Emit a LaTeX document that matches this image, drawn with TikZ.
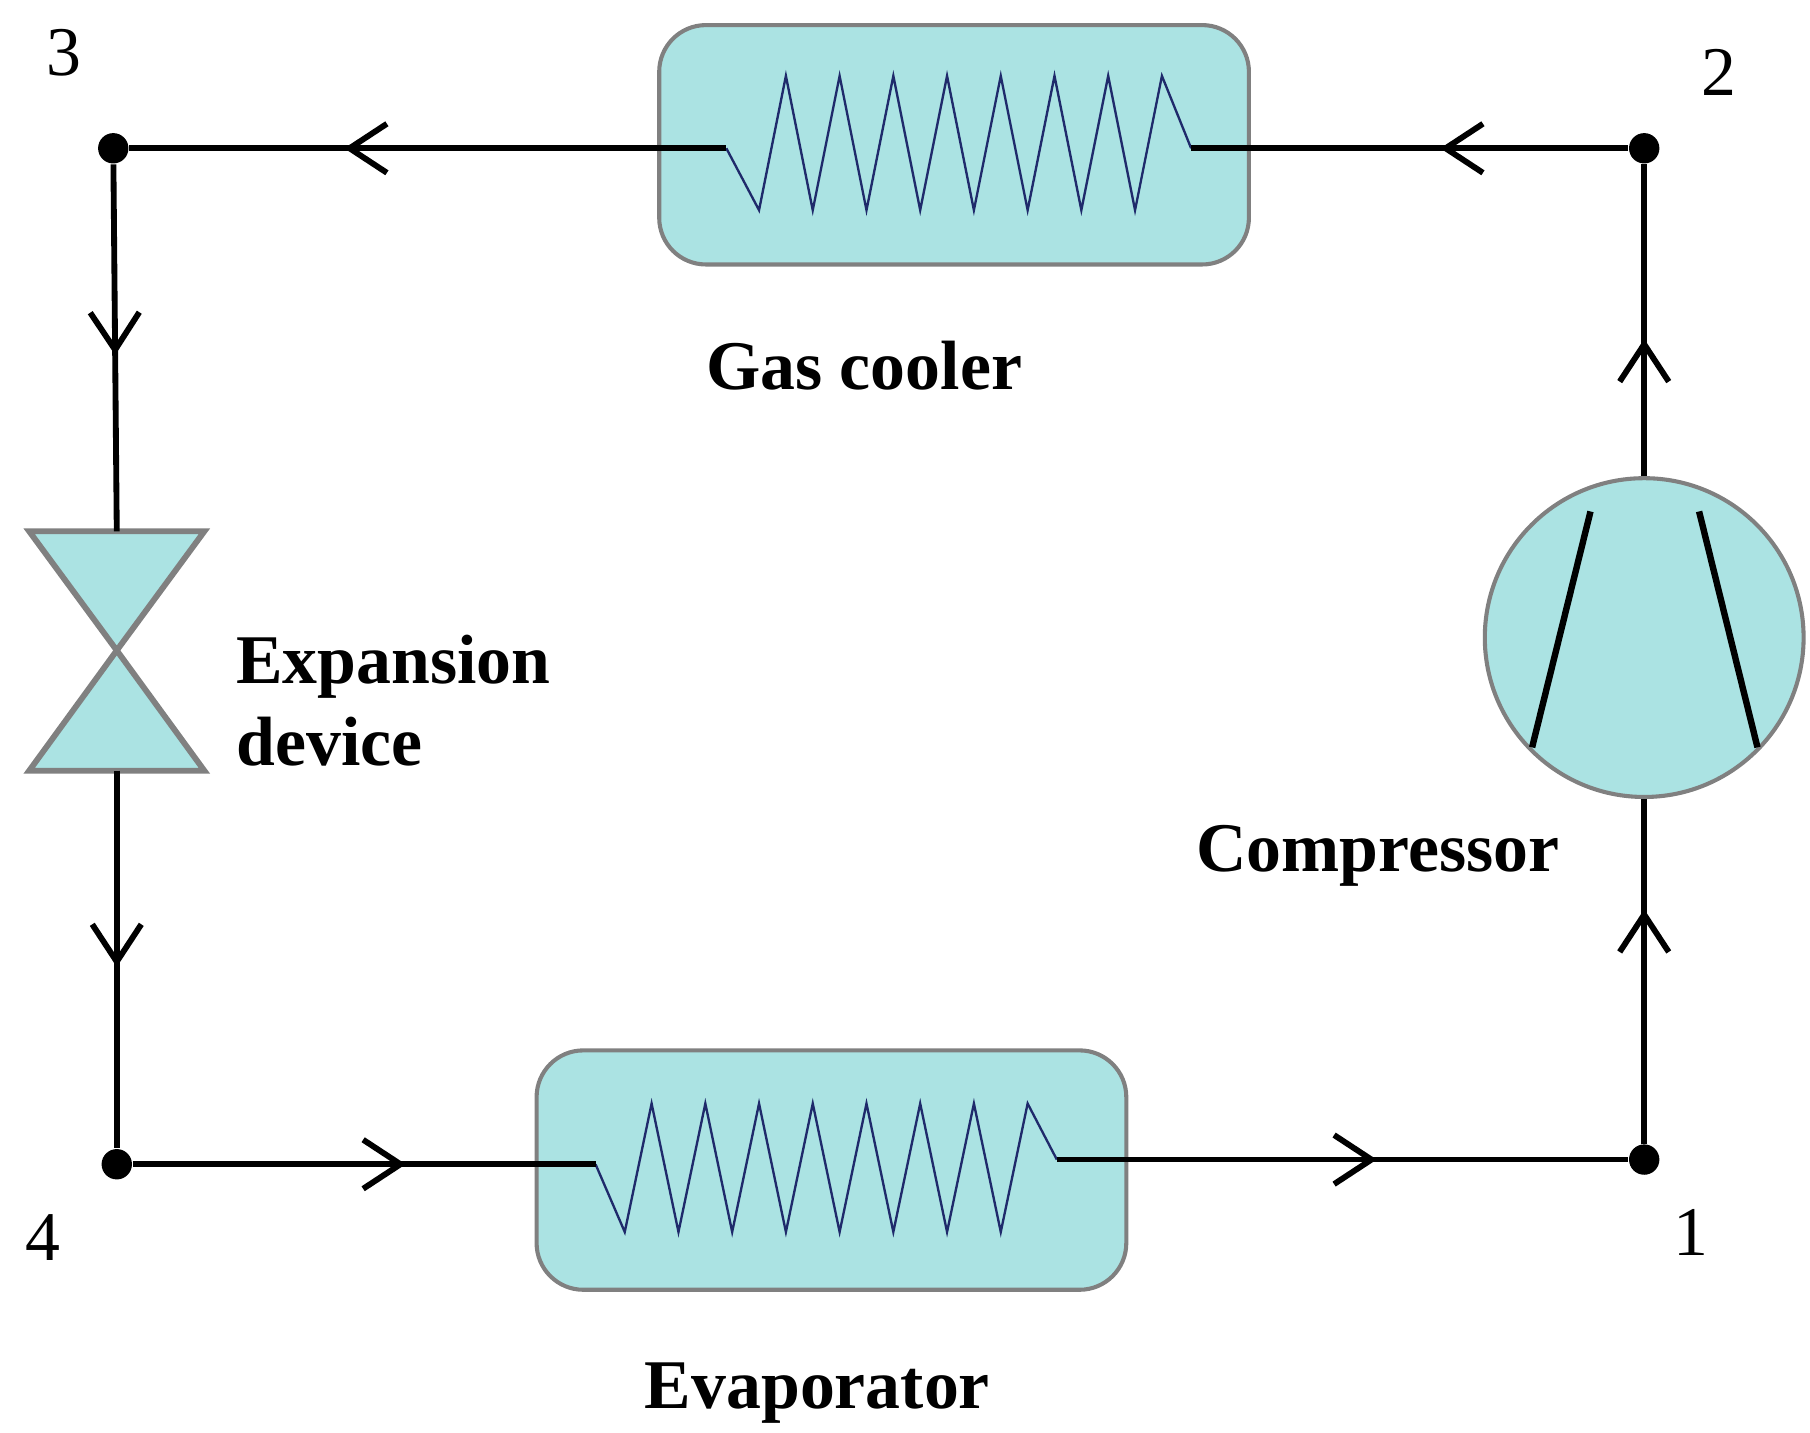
\documentclass[tikz,border=0pt]{standalone}
\usepackage{fontspec}
\setmainfont{Liberation Serif}
\usetikzlibrary{arrows.meta, positioning, calc, decorations.markings}

\definecolor{unitfill}{HTML}{ABE3E3}
\definecolor{unitline}{HTML}{808080}
\definecolor{coilblue}{HTML}{1F2A6B}

\begin{document}
\begin{tikzpicture}[x=0.1mm, y=-0.1mm,
    unit/.style={rectangle, rounded corners=4mm, draw=unitline, line width=0.35mm, fill=unitfill, minimum width=50.5mm, minimum height=20.5mm},
    dot/.style={circle, fill=black, inner sep=0pt, minimum size=2.6mm},
    pipe/.style={line width=0.5mm},
    coil/.style={draw=coilblue, line width=0.2mm},
    unitlabel/.style={font=\fontsize{17}{20}\selectfont\bfseries, align=left},
    ptlabel/.style={font=\fontsize{17}{20}\selectfont},
    flow/.style={pipe, postaction={decorate}, decoration={markings,
        mark=at position #1 with {\arrow{Straight Barb[length=3.2mm, width=4.2mm, line width=0.5mm]}}}}
]
    \useasboundingbox (0,0) rectangle (1550,1227);

    % Points of the cycle
    \node[dot] (p3) at (97,127) {};
    \node[dot] (p2) at (1408,127) {};
    \node[dot] (p1) at (1408,993) {};
    \node[dot] (p4) at (100,997) {};

    \node[ptlabel] (n3) at (55,45) {3};
    \node[ptlabel] (n2) at (1472,62) {2};
    \node[ptlabel] (n1) at (1448,1055) {1};
    \node[ptlabel] (n4) at (37,1060) {4};

    % --- Gas cooler ---
    \node[unit] (gc) at (817,124) {};
    \coordinate (gcL) at (622,127);
    \coordinate (gcR) at (1020,127);
    \draw[coil] (gcL) \foreach \i in {0,...,15} {
        -- ({650+23*\i}, {mod(\i,2)==0 ? 180 : 65})} -- (gcR);
    \node[unitlabel] (gclab) at (740,313) {Gas cooler};

    % --- Evaporator ---
    \node[unit] (ev) at (712,1002) {};
    \coordinate (evL) at (510,997);
    \coordinate (evR) at (905,993);
    \draw[coil] (evL) \foreach \i in {0,...,15} {
        -- ({535+23*\i}, {mod(\i,2)==0 ? 1055 : 945})} -- (evR);
    \node[unitlabel] (evlab) at (700,1193) {Evaporator};

    % --- Expansion device ---
    \coordinate (vT) at (100,455);
    \coordinate (vB) at (100,660);
    \draw[draw=unitline, line width=0.5mm, fill=unitfill, line join=miter]
        (25,455) -- (175,455) -- (100,557) -- cycle;
    \draw[draw=unitline, line width=0.5mm, fill=unitfill, line join=miter]
        (25,660) -- (175,660) -- (100,557) -- cycle;
    \node[unitlabel, anchor=west] (vlab) at (190,600) {Expansion\\device};

    % --- Compressor ---
    \node[circle, draw=unitline, line width=0.35mm, fill=unitfill, minimum size=27.3mm, inner sep=0pt] (comp) at (1408,546) {};
    \draw[line width=0.55mm] (1362,438) -- (1312,640);
    \draw[line width=0.55mm] (1455,438) -- (1505,640);
    \node[unitlabel] (clab) at (1180,733) {Compressor};

    % --- Pipes ---
    \draw[flow=0.43] (p2) -- (gcR);
    \draw[flow=0.64] (gcL) -- (p3);
    \draw[flow=0.52] (p3) -- (vT);
    \draw[flow=0.52] (vB) -- (p4);
    \draw[flow=0.59] (p4) -- (evL);
    \draw[flow=0.56] (evR) -- (p1);
    \draw[flow=0.68] (p1) -- (comp.south);
    \draw[flow=0.44] (comp.north) -- (p2);
\end{tikzpicture}
\end{document}
